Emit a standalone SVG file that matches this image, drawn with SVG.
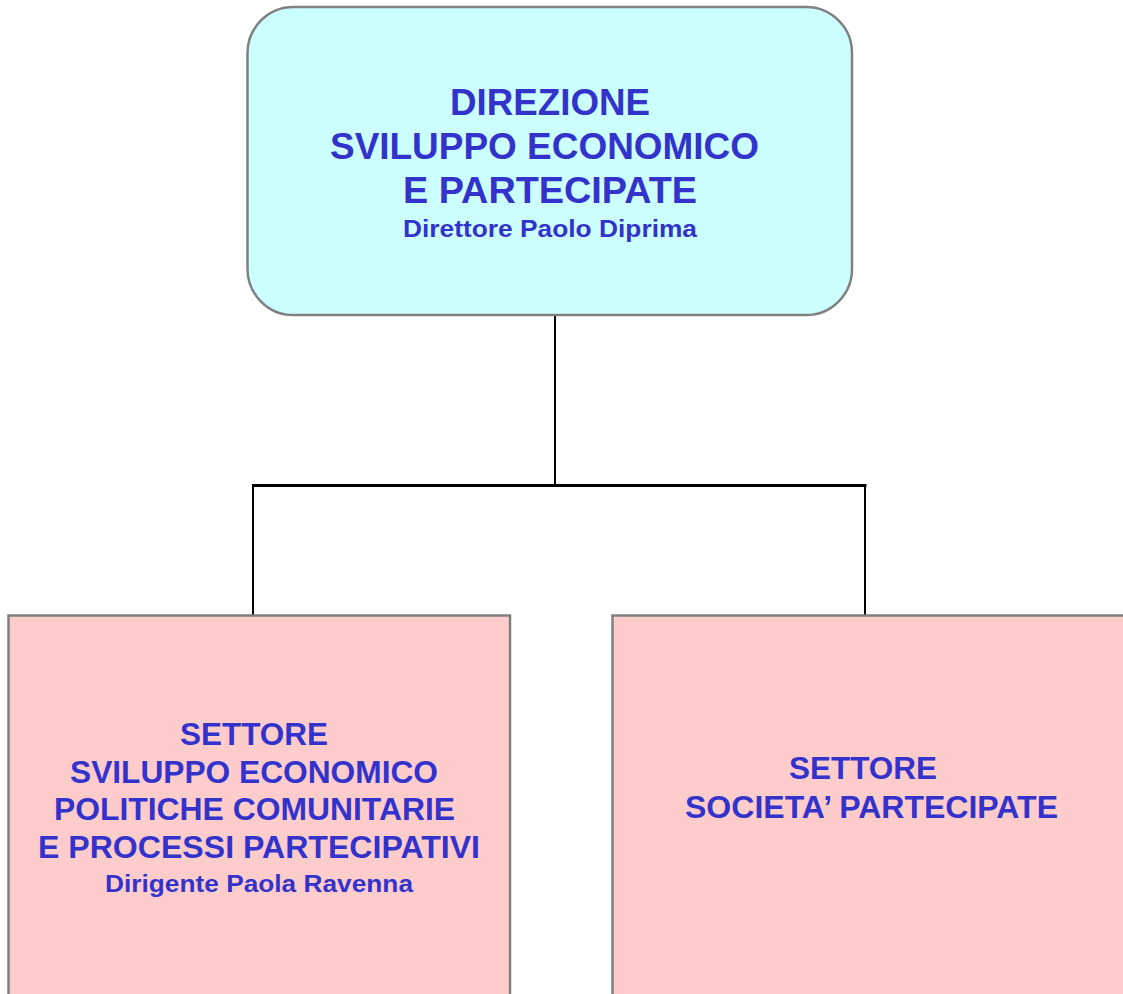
<svg xmlns="http://www.w3.org/2000/svg" width="1123" height="994" viewBox="0 0 1123 994">
<style>
.box{stroke:#808080;stroke-width:2.5}
.top{fill:#CCFFFF}
.sub{fill:#FFCCCC}
.t{font-family:"Liberation Sans",Arial,sans-serif;font-weight:bold;fill:#3333CC;text-anchor:middle}
.conn{stroke:#000;fill:none}
</style>
<rect width="1123" height="994" fill="#fff"/>
<g id="connectors">
<line class="conn" x1="555" y1="316" x2="555" y2="485" stroke-width="2"/>
<line class="conn" x1="252" y1="485.5" x2="866.5" y2="485.5" stroke-width="3"/>
<line class="conn" x1="253" y1="485" x2="253" y2="617" stroke-width="2"/>
<line class="conn" x1="865" y1="485" x2="865" y2="617" stroke-width="2"/>
</g>
<g id="node-direzione">
<rect class="box top" x="247.5" y="7" width="604.5" height="308" rx="46" ry="46"/>
<text class="t" x="550" y="115" font-size="37" textLength="200" lengthAdjust="spacingAndGlyphs">DIREZIONE</text>
<text class="t" x="544.5" y="159" font-size="37" textLength="429" lengthAdjust="spacingAndGlyphs">SVILUPPO ECONOMICO</text>
<text class="t" x="550" y="203" font-size="37" textLength="294" lengthAdjust="spacingAndGlyphs">E PARTECIPATE</text>
<text class="t" x="550" y="237" font-size="23" textLength="294" lengthAdjust="spacingAndGlyphs">Direttore Paolo Diprima</text>
</g>
<g id="node-settore-sviluppo">
<rect class="box sub" x="8.5" y="615.5" width="501.5" height="390"/>
<text class="t" x="254" y="745" font-size="32" textLength="148" lengthAdjust="spacingAndGlyphs">SETTORE</text>
<text class="t" x="254" y="782.7" font-size="32" textLength="368" lengthAdjust="spacingAndGlyphs">SVILUPPO ECONOMICO</text>
<text class="t" x="254.5" y="820" font-size="32" textLength="401" lengthAdjust="spacingAndGlyphs">POLITICHE COMUNITARIE</text>
<text class="t" x="259" y="858.3" font-size="32" textLength="442" lengthAdjust="spacingAndGlyphs">E PROCESSI PARTECIPATIVI</text>
<text class="t" x="259" y="892" font-size="23" textLength="308" lengthAdjust="spacingAndGlyphs">Dirigente Paola Ravenna</text>
</g>
<g id="node-settore-societa">
<rect class="box sub" x="612.5" y="615.5" width="520" height="390"/>
<text class="t" x="863" y="779.3" font-size="32" textLength="148" lengthAdjust="spacingAndGlyphs">SETTORE</text>
<text class="t" x="871.5" y="817.7" font-size="32" textLength="373" lengthAdjust="spacingAndGlyphs">SOCIETA’ PARTECIPATE</text>
</g>
</svg>
